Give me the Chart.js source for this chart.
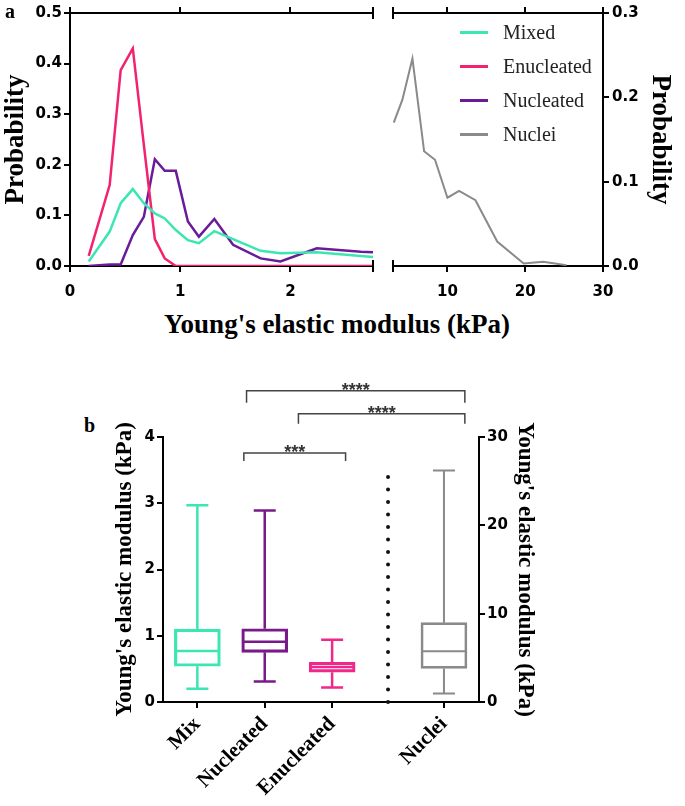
<!DOCTYPE html>
<html>
<head>
<meta charset="utf-8">
<script src="https://cdn.jsdelivr.net/npm/chart.js@4.4.1/dist/chart.umd.min.js"></script>
<style>
html, body { margin: 0; padding: 0; background: #fff; }
#wrap { position: relative; width: 685px; height: 806px; overflow: hidden; }
canvas { position: absolute; }
.lbl { position: absolute; font-family: "Liberation Serif", serif; font-weight: bold; color: #000; white-space: nowrap; }
#legend { position: absolute; left: 460px; top: 15px; font-family: "Liberation Serif", serif; font-size: 20px; color: #222; }
#legend div { height: 34px; display: flex; align-items: center; }
#legend span { display: inline-block; width: 28px; height: 3px; margin-right: 15px; }
</style>
</head>
<body>
<div id="wrap">
  <canvas id="cA" width="385" height="300" style="left:0;top:0"></canvas>
  <canvas id="cB" width="305" height="300" style="left:380px;top:0"></canvas>
  <canvas id="cC" width="450" height="446" style="left:100px;top:360px"></canvas>
  <div class="lbl" style="left:5px;top:0;font-size:20px">a</div>
  <div class="lbl" style="left:84px;top:414px;font-size:20px">b</div>
  <div class="lbl" style="left:0;width:674px;top:309px;line-height:30px;text-align:center;font-size:27px">Young's elastic modulus (kPa)</div>
  <div id="legend"></div>
</div>
<script>
// histogram bins (kPa) shared by the three cell series
const binsA = [0.17, 0.36, 0.46, 0.57, 0.67, 0.77, 0.86, 0.96, 1.07, 1.17, 1.31, 1.48, 1.73, 1.91, 2.24, 2.64, 2.75];
const mixedP = [0.009, 0.068, 0.124, 0.152, 0.124, 0.104, 0.094, 0.071, 0.051, 0.045, 0.069, 0.053, 0.030, 0.025, 0.027, 0.020, 0.018];
const enucleatedP = [0.02, 0.16, 0.387, 0.43, 0.24, 0.053, 0.015, 0.0, 0, 0, 0, 0, 0, 0, 0, 0, 0];
const nucleatedP = [0.0, 0.003, 0.003, 0.061, 0.097, 0.211, 0.188, 0.188, 0.088, 0.058, 0.093, 0.042, 0.015, 0.009, 0.035, 0.028, 0.027];

const nucleiX = [3.1, 4.2, 5.5, 7.0, 8.4, 10.0, 11.5, 13.6, 16.4, 19.8, 22.3, 25.3];
const nucleiP = [0.17, 0.197, 0.246, 0.136, 0.126, 0.081, 0.089, 0.078, 0.029, 0.003, 0.005, 0.001];

const seriesNames = ['Mixed', 'Enucleated', 'Nucleated', 'Nuclei'];
const seriesColors = ['#3ce6b2', '#f2226f', '#6a1b9a', '#8a8a8a'];

// box plot (panel b)
const boxLabels = ['Mix', 'Nucleated', 'Enucleated', 'Nuclei'];
const boxAxis = ['y', 'y', 'y', 'y2'];
const boxMin = [0.20, 0.31, 0.22, 0.95];
const boxQ1 = [0.54, 0.75, 0.45, 3.8];
const boxMed = [0.77, 0.91, 0.53, 5.75];
const boxQ3 = [1.10, 1.105, 0.60, 8.98];
const boxMax = [2.97, 2.89, 0.94, 26.2];
const boxColors = ['#3ce6b2', '#7a1a8a', '#f0288a', '#8a8a8a'];
const sigText = ['****', '****', '***'];

Chart.defaults.font.family = 'DejaVu Sans';
Chart.defaults.color = '#000';

const tickFont = { family: 'DejaVu Sans', weight: 'bold', size: 15 };
const serifBold = s => ({ family: 'Liberation Serif', weight: 'bold', size: s });
const pts = (xs, ys) => xs.map((x, i) => ({ x: x, y: ys[i] }));
const gridStyle = { drawOnChartArea: false, tickLength: 6, color: '#000', lineWidth: 2 };
const borderStyle = { color: '#000', width: 2 };

// legend
const legend = document.getElementById('legend');
seriesNames.forEach((n, i) => {
  const row = document.createElement('div');
  row.innerHTML = '<span style="background:' + seriesColors[i] + '"></span>' + n;
  legend.appendChild(row);
});

function makeCaps(side) {
  return {
    id: 'caps' + side,
    afterDraw(chart) {
      const { ctx, chartArea: a } = chart;
      const x = side === 'right' ? a.right : a.left;
      ctx.save();
      ctx.strokeStyle = '#000';
      ctx.lineWidth = 2;
      ctx.beginPath();
      ctx.moveTo(x, a.top - 6); ctx.lineTo(x, a.top + 6);
      ctx.moveTo(x, a.bottom - 6); ctx.lineTo(x, a.bottom + 6);
      ctx.stroke();
      ctx.restore();
    }
  };
}

function xAxes(min, max, ticks) {
  const set = s => { s.ticks = ticks.map(v => ({ value: v })); };
  return {
    x: { type: 'linear', position: 'bottom', min: min, max: max, afterBuildTicks: set,
         ticks: { font: tickFont, padding: 11, maxRotation: 0 },
         grid: gridStyle, border: borderStyle, afterFit: s => { s.height = 34; } },
    xTop: { type: 'linear', position: 'top', min: min, max: max, afterBuildTicks: set,
         ticks: { display: false }, grid: gridStyle, border: borderStyle,
         afterFit: s => { s.height = 13; } }
  };
}

// panel a, left part
new Chart(document.getElementById('cA'), {
  type: 'line',
  data: {
    datasets: [
      { label: 'Mixed', data: pts(binsA, mixedP), borderColor: seriesColors[0] },
      { label: 'Enucleated', data: pts(binsA, enucleatedP), borderColor: seriesColors[1] },
      { label: 'Nucleated', data: pts(binsA, nucleatedP), borderColor: seriesColors[2] }
    ]
  },
  options: {
    responsive: false, animation: false,
    layout: { padding: { right: 12 } },
    elements: { line: { borderWidth: 2.5, tension: 0 }, point: { radius: 0 } },
    plugins: { legend: { display: false }, tooltip: { enabled: false } },
    scales: Object.assign(xAxes(0, 2.75, [0, 1, 2]), {
      y: { min: 0, max: 0.5,
           ticks: { stepSize: 0.1, font: tickFont, padding: 2, callback: v => v.toFixed(1) },
           grid: gridStyle, border: borderStyle,
           title: { display: true, text: 'Probability', font: serifBold(27), padding: { top: 0, bottom: 0 } },
           afterFit: s => { s.width = 70; } }
    })
  },
  plugins: [makeCaps('right')]
});

// panel a, right part
new Chart(document.getElementById('cB'), {
  type: 'line',
  data: {
    datasets: [
      { label: 'Nuclei', data: pts(nucleiX, nucleiP), borderColor: seriesColors[3], borderWidth: 2 }
    ]
  },
  options: {
    responsive: false, animation: false,
    layout: { padding: { left: 13 } },
    elements: { line: { tension: 0 }, point: { radius: 0 } },
    plugins: { legend: { display: false }, tooltip: { enabled: false } },
    scales: Object.assign(xAxes(3, 30, [10, 20, 30]), {
      y: { position: 'right', min: 0, max: 0.3,
           ticks: { stepSize: 0.1, font: tickFont, padding: 3, callback: v => v.toFixed(1) },
           grid: gridStyle, border: borderStyle,
           title: { display: true, text: 'Probability', font: serifBold(27), padding: { top: 9, bottom: 0 } },
           afterFit: s => { s.width = 82; } }
    })
  },
  plugins: [makeCaps('left')]
});

// panel b
const GAP = 0.66;
const boxPos = boxLabels.map((l, i) => i + (boxAxis[i] === 'y2' ? GAP : 0));
const BOXW = 46;

const boxDetails = {
  id: 'boxDetails',
  afterDatasetsDraw(chart) {
    const { ctx, scales } = chart;
    const xs = scales.x, yl = scales.y;
    ctx.save();
    ctx.lineCap = 'butt';
    boxLabels.forEach((lab, i) => {
      const ys = scales[boxAxis[i]];
      const x = xs.getPixelForValue(boxPos[i]);
      ctx.strokeStyle = boxColors[i];
      ctx.lineWidth = boxAxis[i] === 'y2' ? 2 : 2.5;
      const cap = 11;
      ctx.beginPath();
      ctx.moveTo(x, ys.getPixelForValue(boxQ3[i])); ctx.lineTo(x, ys.getPixelForValue(boxMax[i]));
      ctx.moveTo(x - cap, ys.getPixelForValue(boxMax[i])); ctx.lineTo(x + cap, ys.getPixelForValue(boxMax[i]));
      ctx.moveTo(x, ys.getPixelForValue(boxQ1[i])); ctx.lineTo(x, ys.getPixelForValue(boxMin[i]));
      ctx.moveTo(x - cap, ys.getPixelForValue(boxMin[i])); ctx.lineTo(x + cap, ys.getPixelForValue(boxMin[i]));
      ctx.moveTo(x - BOXW / 2 + 1, ys.getPixelForValue(boxMed[i])); ctx.lineTo(x + BOXW / 2 - 1, ys.getPixelForValue(boxMed[i]));
      ctx.stroke();
    });
    // dotted divider between cell groups and nuclei
    const dx = xs.getPixelForValue((boxPos[2] + boxPos[3]) / 2);
    ctx.strokeStyle = '#111';
    ctx.lineWidth = 4;
    ctx.lineCap = 'round';
    ctx.setLineDash([0, 12.5]);
    ctx.beginPath();
    ctx.moveTo(dx, yl.getPixelForValue(0));
    ctx.lineTo(dx, yl.getPixelForValue(3.43));
    ctx.stroke();
    ctx.setLineDash([]);
    // significance brackets
    const br = [
      { a: 0.73, b: 3.97, lv: 4.70, drop: 12 },
      { a: 1.50, b: 3.97, lv: 4.35, drop: 10 },
      { a: 0.69, b: 2.20, lv: 3.76, drop: 8 }
    ];
    ctx.strokeStyle = '#444';
    ctx.fillStyle = '#333';
    ctx.lineWidth = 1.5;
    ctx.lineCap = 'butt';
    ctx.font = 'bold 18px "Liberation Sans"';
    ctx.textAlign = 'center';
    ctx.textBaseline = 'middle';
    br.forEach((b, i) => {
      const x1 = xs.getPixelForValue(b.a), x2 = xs.getPixelForValue(b.b), y = yl.getPixelForValue(b.lv);
      ctx.beginPath();
      ctx.moveTo(x1, y + b.drop); ctx.lineTo(x1, y); ctx.lineTo(x2, y); ctx.lineTo(x2, y + b.drop);
      ctx.stroke();
      ctx.fillText(sigText[i], (x1 + x2) / 2, y);
    });
    ctx.restore();
  }
};

const leftIdx = [0, 1, 2], rightIdx = [3];
const boxData = idx => idx.map(i => ({ x: boxPos[i], y: [boxQ1[i], boxQ3[i]] }));

new Chart(document.getElementById('cC'), {
  type: 'bar',
  data: {
    datasets: [
      { data: boxData(leftIdx), yAxisID: 'y', borderColor: leftIdx.map(i => boxColors[i]),
        backgroundColor: 'rgba(0,0,0,0)', borderWidth: 2.5, borderSkipped: false,
        barThickness: BOXW, grouped: false },
      { data: boxData(rightIdx), yAxisID: 'y2', borderColor: rightIdx.map(i => boxColors[i]),
        backgroundColor: 'rgba(0,0,0,0)', borderWidth: 2, borderSkipped: false,
        barThickness: BOXW, grouped: false }
    ]
  },
  options: {
    responsive: false, animation: false,
    layout: { padding: { top: 77 } },
    plugins: { legend: { display: false }, tooltip: { enabled: false } },
    scales: {
      x: { type: 'linear', min: -0.51, max: 4.18, offset: false,
           afterBuildTicks: s => { s.ticks = boxPos.map(v => ({ value: v })); },
           ticks: { font: serifBold(21), minRotation: 45, maxRotation: 45, autoSkip: false, padding: 4,
                    callback: (v, i) => boxLabels[i] },
           grid: Object.assign({}, gridStyle, { offset: false }), border: borderStyle,
           afterFit: s => { s.height = 104; } },
      y: { position: 'left', min: 0, max: 4,
           ticks: { stepSize: 1, font: tickFont, padding: 2 },
           grid: gridStyle, border: borderStyle,
           title: { display: true, text: "Young's elastic modulus (kPa)", font: serifBold(23), padding: { top: 11, bottom: 0 } },
           afterFit: s => { s.width = 63; } },
      y2: { position: 'right', min: 0, max: 30,
           ticks: { stepSize: 10, font: tickFont, padding: 2 },
           grid: gridStyle, border: borderStyle,
           title: { display: true, text: "Young's elastic modulus (kPa)", font: serifBold(23), padding: { top: 11, bottom: 0 } },
           afterFit: s => { s.width = 71; } }
    }
  },
  plugins: [boxDetails]
});
</script>
</body>
</html>
